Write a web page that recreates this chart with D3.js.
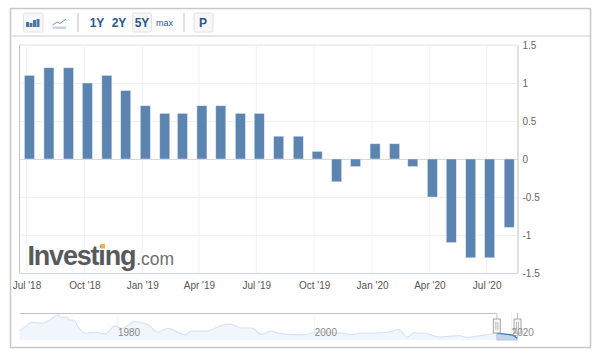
<!DOCTYPE html>
<html>
<head>
<meta charset="utf-8">
<script src="https://d3js.org/d3.v7.min.js"></script>
<style>
html, body { margin: 0; padding: 0; background: #fff; }
svg { display: block; }
text { font-family: "Liberation Sans", Arial, sans-serif; }
</style>
</head>
<body>
<div id="chart"></div>
<script>
// monthly values, Jul '18 to Aug '20
const months = ["2018-07","2018-08","2018-09","2018-10","2018-11","2018-12",
  "2019-01","2019-02","2019-03","2019-04","2019-05","2019-06","2019-07","2019-08","2019-09","2019-10","2019-11","2019-12",
  "2020-01","2020-02","2020-03","2020-04","2020-05","2020-06","2020-07","2020-08"];
const values = [1.1,1.2,1.2,1.0,1.1,0.9,0.7,0.6,0.6,0.7,0.7,0.6,0.6,0.3,0.3,0.1,-0.3,-0.1,0.2,0.2,-0.1,-0.5,-1.1,-1.3,-1.3,-0.9];
const xTicks = ["2018-07","2018-10","2019-01","2019-04","2019-07","2019-10","2020-01","2020-04","2020-07"];
const xTickLabels = ["Jul '18","Oct '18","Jan '19","Apr '19","Jul '19","Oct '19","Jan '20","Apr '20","Jul '20"];
const yTicks = [1.5,1,0.5,0,-0.5,-1,-1.5];

// navigator series, long history
const navYears = [1970,1970.6,1971.2,1972.3,1973.1,1973.9,1974.3,1974.8,1975.1,1975.5,1976,1976.7,1977.7,1978.7,1979.7,1980.4,1981.7,1983.1,1984,1985.1,1986.2,1986.8,
  1987.5,1988.9,1989.9,1990.6,1991.4,1992.6,1993.6,1994.6,1995.5,1996.5,1998.9,2000.2,2002.9,2003.6,2004.8,2006.8,2007.7,2008.5,2009.4,2010.1,2011.2,2012.6,2014.6,2015.6,2017.3,2018.6,2019.4,2020,2020.6];
const navValues = [3.5,6.1,8.6,8.1,10,12.9,11.4,11.6,10,10,5.5,2.2,2.8,1.8,6.4,5.1,9,7.1,2.8,5.1,2.5,1.2,
  3.5,3.4,5.3,6.8,7.6,5.3,5.3,1.5,3.5,2,1.2,2.9,2.1,1.5,2.2,2.5,3.1,4.4,-0.2,2.5,2.2,0,0.8,-0.2,1.2,2.2,1.6,1.2,-0.8];
const navTicks = [1980,2000,2020];

const rangeButtons = [{t:"1Y",x:97},{t:"2Y",x:119},{t:"5Y",x:142,on:true},{t:"max",x:164.5,small:true}];
const iconBars = [5,4,7,8];

const parseMonth = d3.timeParse("%Y-%m");
const width = 602, height = 355;
const plot = {left: 19.5, right: 517.5, top: 45, bottom: 273};

const svg = d3.select("#chart").append("svg")
  .attr("width", width)
  .attr("height", height);

// outer frame and toolbar line
svg.append("rect").attr("x", 10.5).attr("y", 8.5).attr("width", 580).attr("height", 339)
  .attr("fill", "#fff").attr("stroke", "#c8c8c8").attr("stroke-width", 1.5);
svg.append("line").attr("x1", 11).attr("x2", 590).attr("y1", 36).attr("y2", 36)
  .attr("stroke", "#dcdcdc").attr("stroke-width", 1.5);

// toolbar
function button(x, w) {
  svg.append("rect").attr("x", x).attr("y", 13).attr("width", w).attr("height", 19).attr("rx", 1.5)
    .attr("fill", "#f7f7f7").attr("stroke", "#e2e2e2");
}
button(23.5, 19.5);
button(132.5, 19);
button(194, 19);
[78, 184].forEach(x => svg.append("line").attr("x1", x).attr("x2", x).attr("y1", 13).attr("y2", 32)
  .attr("stroke", "#d4d4d4").attr("stroke-width", 1.5));

svg.selectAll(".icon-bar").data(iconBars).join("rect").attr("class", "icon-bar")
  .attr("x", (d, i) => 26 + i * 3.5)
  .attr("y", d => 27 - d)
  .attr("width", 3)
  .attr("height", d => d)
  .attr("fill", "#4a76a8");

// line icon
svg.append("path").attr("d", "M52.5 25L57 22L60 23.5L66 19").attr("fill", "none").attr("stroke", "#6c93bf").attr("stroke-width", 1);
svg.append("rect").attr("x", 52.5).attr("y", 26.5).attr("width", 13.5).attr("height", 2.5).attr("fill", "#c9d3de");

svg.selectAll(".range").data(rangeButtons).join("text").attr("class", "range")
  .attr("x", d => d.x)
  .attr("y", d => d.small ? 26 : 27)
  .attr("text-anchor", "middle")
  .attr("font-size", d => d.small ? 9 : 12)
  .attr("font-weight", d => d.small ? "normal" : "bold")
  .attr("fill", "#2a5590")
  .text(d => d.t);
svg.append("text").attr("x", 203).attr("y", 27).attr("text-anchor", "middle")
  .attr("font-size", 12).attr("font-weight", "bold").attr("fill", "#2a5590").text("P");

// scales
const x = d3.scaleTime()
  .domain([new Date(2018, 5, 20), new Date(2020, 7, 19)])
  .range([plot.left, plot.right]);
const y = d3.scaleLinear().domain([-1.5, 1.5]).range([plot.bottom, plot.top]);
const barOffset = 3;
const barWidth = 10;

// grid
svg.append("g").selectAll("line").data(xTicks).join("line")
  .attr("x1", d => x(parseMonth(d))).attr("x2", d => x(parseMonth(d)))
  .attr("y1", plot.top).attr("y2", plot.bottom)
  .attr("stroke", "#f0f0f0");
svg.append("g").selectAll("line").data(yTicks).join("line")
  .attr("x1", plot.left).attr("x2", plot.right)
  .attr("y1", d => Math.round(y(d)) + 0.5).attr("y2", d => Math.round(y(d)) + 0.5)
  .attr("stroke", d => d === 0 ? "#d8d8d8" : "#f0f0f0");

// logo sits under the bars
const logo = svg.append("text").attr("x", 27.5).attr("y", 265);
logo.append("tspan").attr("font-size", 27).attr("font-weight", "bold").attr("letter-spacing", -1.2).attr("fill", "#58595b").text("Investing");
logo.append("tspan").attr("font-size", 17.5).attr("dx", 1).attr("fill", "#6d6e70").text(".com");
svg.append("rect").attr("x", 100.5).attr("y", 244).attr("width", 4.5).attr("height", 4.5).attr("fill", "#f6b04b");

// bars
svg.append("g").selectAll("rect").data(values).join("rect")
  .attr("x", (d, i) => x(parseMonth(months[i])) + barOffset - barWidth / 2)
  .attr("y", d => y(Math.max(0, d)))
  .attr("width", barWidth)
  .attr("height", d => Math.abs(y(d) - y(0)))
  .attr("fill", "#5c84b1")
  .attr("stroke", "#dfe7f0")
  .attr("stroke-width", 0.5);

// plot border
svg.append("line").attr("x1", plot.left).attr("x2", plot.right).attr("y1", plot.top).attr("y2", plot.top)
  .attr("stroke", "#f0f0f0").attr("stroke-width", 2);
svg.append("line").attr("x1", plot.left).attr("x2", plot.left).attr("y1", plot.top).attr("y2", plot.bottom)
  .attr("stroke", "#c4c4c4");
svg.append("line").attr("x1", plot.left).attr("x2", plot.right).attr("y1", plot.bottom + 0.5).attr("y2", plot.bottom + 0.5)
  .attr("stroke", "#ccd6eb");

// axes
const yAxis = svg.append("g")
  .attr("transform", `translate(${plot.right},0)`)
  .call(d3.axisRight(y).tickValues(yTicks).tickSize(0).tickPadding(5).tickFormat(d => d));
yAxis.select(".domain").attr("stroke", "#c0c0c0");
yAxis.selectAll("text").attr("font-size", 10).attr("font-family", null).attr("fill", "#666");

const xAxis = svg.append("g")
  .attr("transform", `translate(0,${plot.bottom})`)
  .call(d3.axisBottom(x)
    .tickValues(xTicks.map(parseMonth))
    .tickSize(0).tickPadding(9)
    .tickFormat((d, i) => xTickLabels[i]));
xAxis.select(".domain").remove();
xAxis.selectAll("text").attr("font-size", 10).attr("font-family", null).attr("fill", "#555");

// navigator
const nav = {top: 313, bottom: 340};
const navX = d3.scaleLinear().domain([1970, 2020.6]).range([plot.left, plot.right]);
const navY = d3.scaleLinear().domain([-2, 14]).range([340.4, 313.2]);
const navPts = navYears.map((yr, i) => [yr, navValues[i]]);
const selStart = navX(2018.5), selEnd = plot.right;

const navArea = d3.area().x(d => navX(d[0])).y0(nav.bottom).y1(d => navY(d[1])).curve(d3.curveMonotoneX);
const navLine = d3.line().x(d => navX(d[0])).y(d => navY(d[1])).curve(d3.curveMonotoneX);

svg.append("defs").append("clipPath").attr("id", "sel").append("rect")
  .attr("x", selStart).attr("y", nav.top).attr("width", selEnd - selStart).attr("height", nav.bottom - nav.top);

svg.append("g").selectAll("line").data(navTicks).join("line")
  .attr("x1", d => navX(d)).attr("x2", d => navX(d)).attr("y1", nav.top).attr("y2", nav.bottom)
  .attr("stroke", "#f2f2f2");
svg.append("path").datum(navPts).attr("d", navArea).attr("fill", "#f1f6fc");
svg.append("path").datum(navPts).attr("d", navLine).attr("fill", "none").attr("stroke", "#d6e4f2").attr("stroke-width", 1.2);

const selG = svg.append("g").attr("clip-path", "url(#sel)");
selG.append("path").datum(navPts).attr("d", navArea).attr("fill", "#bcd6f0");
selG.append("path").datum(navPts).attr("d", navLine).attr("fill", "none").attr("stroke", "#3f7fbd").attr("stroke-width", 1.3);

svg.append("path")
  .attr("d", `M${plot.left},${nav.top + 0.5}H${selStart}V${nav.bottom}H${selEnd}V${nav.top}`)
  .attr("fill", "none").attr("stroke", "#c4c4c4");

// handles
[selStart, selEnd].forEach(hx => {
  svg.append("rect").attr("x", hx - 3.5).attr("y", 319).attr("width", 7).attr("height", 14)
    .attr("fill", "#f5f5f5").attr("stroke", "#a8a8a8");
  [-1, 1].forEach(o => svg.append("line").attr("x1", hx + o).attr("x2", hx + o).attr("y1", 322).attr("y2", 330)
    .attr("stroke", "#bdbdbd"));
});

svg.selectAll(".nav-label").data(navTicks).join("text").attr("class", "nav-label")
  .attr("x", d => navX(d))
  .attr("y", 336)
  .attr("font-size", 10)
  .attr("fill", "#888")
  .text(d => d);
</script>
</body>
</html>
